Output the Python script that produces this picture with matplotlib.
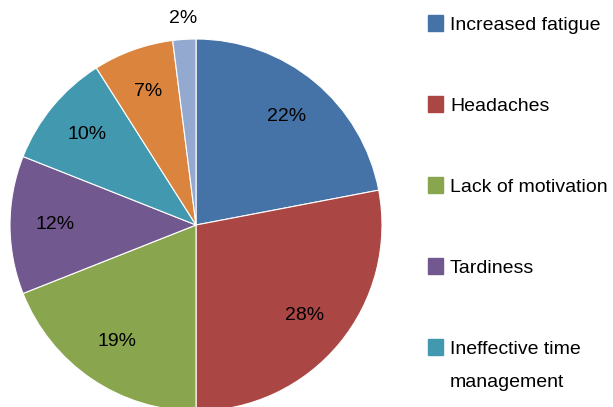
import matplotlib.pyplot as plt
from matplotlib.patches import Rectangle
import numpy as np

plt.rcParams['font.family'] = ['Liberation Sans', 'DejaVu Sans']

labels = ["Increased fatigue", "Headaches", "Lack of motivation", "Tardiness",
          "Ineffective time\nmanagement", "", ""]
values = [22, 28, 19, 12, 10, 7, 2]
colors = ["#4572A7", "#AA4643", "#89A54E", "#71588F", "#4198AF", "#DB843D", "#93A9CF"]

W, H = 613, 407
fig = plt.figure(figsize=(W / 100, H / 100), dpi=100)

cx, cy, r = 196, 225, 186
ax = fig.add_axes([(cx - r) / W, (H - cy - r) / H, 2 * r / W, 2 * r / H])
wedges, _ = ax.pie(values, colors=colors, startangle=90, counterclock=False,
                   radius=1, wedgeprops=dict(edgecolor="white", linewidth=0.8))
ax.set_xlim(-1, 1)
ax.set_ylim(-1, 1)
ax.set_aspect("equal")
ax.axis("off")
for w in wedges:
    w.set_clip_on(False)

for w, v in zip(wedges, values):
    ang = np.deg2rad((w.theta1 + w.theta2) / 2)
    d = 1.11 if v < 5 else 0.76
    ax.text(d * np.cos(ang), d * np.sin(ang), f"{v}%", ha="center", va="center",
            fontsize=14, color="black", clip_on=False)

# legend (only first five entries are visible in the frame)
for i, (lab, col) in enumerate(zip(labels[:5], colors[:5])):
    top = 15 + 81 * i
    fig.patches.append(Rectangle((428 / W, (H - top - 16) / H), 15 / W, 16 / H,
                                 color=col, transform=fig.transFigure))
    fig.text(450 / W, (H - top - 2) / H, lab, fontsize=14, va="top", ha="left",
             linespacing=2.2)

fig.savefig("out.png", dpi=100)
